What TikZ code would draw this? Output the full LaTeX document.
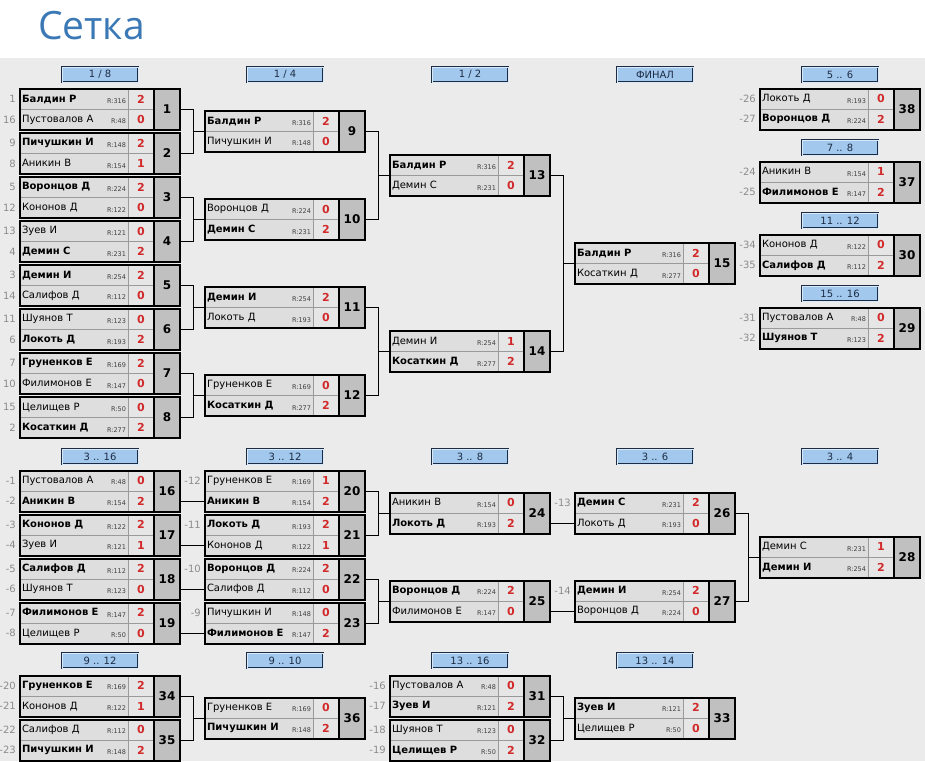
\documentclass[tikz,border=0pt]{standalone}
\usepackage{fontspec}
\setmainfont{DejaVu Sans}
\newfontfamily\titlefont{Open Sans}
\usetikzlibrary{fit}
\definecolor{bggray}{HTML}{EBEBEB}
\definecolor{namefill}{HTML}{DEDEDE}
\definecolor{scorefill}{HTML}{E6E6E6}
\definecolor{numfill}{HTML}{C0C0C0}
\definecolor{rowline}{HTML}{9A9A9A}
\definecolor{seedgray}{HTML}{8C8C8C}
\definecolor{scorered}{HTML}{D22A2A}
\definecolor{stageblue}{HTML}{A3C8EE}
\definecolor{stageline}{HTML}{1C2C44}
\definecolor{titleblue}{HTML}{3B78B6}
\newcommand{\rtg}{\fontsize{6.5}{7}\selectfont\color{black!75}}
\newcommand{\win}[2]{\textbf{#1}\hfill\raisebox{-1.5pt}{\rtg R:#2}}
\newcommand{\lose}[2]{#1\hfill\raisebox{-1.5pt}{\rtg R:#2}}
\newcommand{\game}[7]{%
\node[namecell,anchor=south west] (m#1a) at (#2,#3) {#4};
\node[namecell,anchor=north west] (m#1b) at (#2,#3) {#6};
\node[scorecell,anchor=west] (m#1s) at (m#1a.east) {#5};
\node[scorecell,anchor=west] (m#1t) at (m#1b.east) {#7};
\node[numcell,anchor=west] (m#1n) at (m#1s.south east) {#1};
\node[frame,fit=(m#1a)(m#1n)] (m#1) {};
\draw[line width=2pt] (m#1n.north west) -- (m#1n.south west);}
\newcommand{\seed}[2]{\node[seed,anchor=east] (l#1) at ([xshift=-4pt]#1.west) {#2};}
\newcommand{\bracket}[3]{\draw[link] (m#1.east) -- ++(12.5,0) coordinate (j#3) |- (m#2.east); \draw[link] (j#3 |- m#3.west) -- (m#3.west);}
\newcommand{\feed}[2]{\draw[link] (m#1.east |- m#2b.west) -- (m#2b.west);}
\begin{document}
\begin{tikzpicture}[x=1pt,y=-1pt,
namecell/.style={draw=rowline,line width=0.5pt,fill=namefill,minimum height=20.5pt,text width=104pt,inner xsep=2pt,inner ysep=0pt,outer sep=0pt,font=\fontsize{10}{12}\selectfont},
scorecell/.style={draw=rowline,line width=0.5pt,fill=scorefill,minimum height=20.5pt,minimum width=26pt,inner sep=0pt,outer sep=0pt,text=scorered,font=\fontsize{11}{12}\selectfont\bfseries},
numcell/.style={fill=numfill,minimum height=41pt,minimum width=26pt,inner sep=0pt,outer sep=0pt,font=\fontsize{12}{14}\selectfont\bfseries},
frame/.style={draw,line width=2pt,inner sep=0pt},
seed/.style={text=seedgray,inner sep=0pt,font=\fontsize{10}{12}\selectfont},
stage/.style={draw=stageline,line width=0.8pt,double=white!60!stageblue,double distance=1pt,fill=stageblue,minimum width=76pt,minimum height=15pt,inner sep=0pt,text=stageline,font=\fontsize{10}{12}\selectfont},
link/.style={line width=0.8pt}]
\useasboundingbox (0,0) rectangle (925,761);
\fill[white] (0,0) rectangle (925,58);
\fill[bggray] (0,58) rectangle (925,761);
\node[anchor=west,inner sep=0pt,text=titleblue,font=\titlefont\fontsize{39}{44}\selectfont] (title) at (38,26) {Сетка};

\node[stage] (h18) at (100,74.5) {1 / 8};
\node[stage] (h14) at (285,74.5) {1 / 4};
\node[stage] (h12) at (470,74.5) {1 / 2};
\node[stage] (hfin) at (655,74.5) {ФИНАЛ};
\node[stage] (h56) at (840,74.5) {5 .. 6};
\node[stage] (h78) at (840,147.5) {7 .. 8};
\node[stage] (h1112) at (840,220.5) {11 .. 12};
\node[stage] (h1516) at (840,293.5) {15 .. 16};
\node[stage] (h316) at (100,456.5) {3 .. 16};
\node[stage] (h312) at (285,456.5) {3 .. 12};
\node[stage] (h38) at (470,456.5) {3 .. 8};
\node[stage] (h36) at (655,456.5) {3 .. 6};
\node[stage] (h34) at (840,456.5) {3 .. 4};
\node[stage] (h912) at (100,660.5) {9 .. 12};
\node[stage] (h910) at (285,660.5) {9 .. 10};
\node[stage] (h1316) at (470,660.5) {13 .. 16};
\node[stage] (h1314) at (655,660.5) {13 .. 14};

\game{1}{20}{109.5}{\win{Балдин Р}{316}}{2}{\lose{Пустовалов А}{48}}{0}
\game{2}{20}{153.5}{\win{Пичушкин И}{148}}{2}{\lose{Аникин В}{154}}{1}
\game{3}{20}{197.5}{\win{Воронцов Д}{224}}{2}{\lose{Кононов Д}{122}}{0}
\game{4}{20}{241.5}{\lose{Зуев И}{121}}{0}{\win{Демин С}{231}}{2}
\game{5}{20}{285.5}{\win{Демин И}{254}}{2}{\lose{Салифов Д}{112}}{0}
\game{6}{20}{329.5}{\lose{Шуянов Т}{123}}{0}{\win{Локоть Д}{193}}{2}
\game{7}{20}{373.5}{\win{Груненков Е}{169}}{2}{\lose{Филимонов Е}{147}}{0}
\game{8}{20}{417.5}{\lose{Целищев Р}{50}}{0}{\win{Косаткин Д}{277}}{2}
\game{9}{205}{131.5}{\win{Балдин Р}{316}}{2}{\lose{Пичушкин И}{148}}{0}
\game{10}{205}{219.5}{\lose{Воронцов Д}{224}}{0}{\win{Демин С}{231}}{2}
\game{11}{205}{307.5}{\win{Демин И}{254}}{2}{\lose{Локоть Д}{193}}{0}
\game{12}{205}{395.5}{\lose{Груненков Е}{169}}{0}{\win{Косаткин Д}{277}}{2}
\game{13}{390}{175.5}{\win{Балдин Р}{316}}{2}{\lose{Демин С}{231}}{0}
\game{14}{390}{351.5}{\lose{Демин И}{254}}{1}{\win{Косаткин Д}{277}}{2}
\game{15}{575}{263.5}{\win{Балдин Р}{316}}{2}{\lose{Косаткин Д}{277}}{0}
\game{38}{760}{109}{\lose{Локоть Д}{193}}{0}{\win{Воронцов Д}{224}}{2}
\game{37}{760}{182}{\lose{Аникин В}{154}}{1}{\win{Филимонов Е}{147}}{2}
\game{30}{760}{255}{\lose{Кононов Д}{122}}{0}{\win{Салифов Д}{112}}{2}
\game{29}{760}{328}{\lose{Пустовалов А}{48}}{0}{\win{Шуянов Т}{123}}{2}

\game{16}{20}{491}{\lose{Пустовалов А}{48}}{0}{\win{Аникин В}{154}}{2}
\game{17}{20}{535}{\win{Кононов Д}{122}}{2}{\lose{Зуев И}{121}}{1}
\game{18}{20}{579}{\win{Салифов Д}{112}}{2}{\lose{Шуянов Т}{123}}{0}
\game{19}{20}{623}{\win{Филимонов Е}{147}}{2}{\lose{Целищев Р}{50}}{0}
\game{20}{205}{491}{\lose{Груненков Е}{169}}{1}{\win{Аникин В}{154}}{2}
\game{21}{205}{535}{\win{Локоть Д}{193}}{2}{\lose{Кононов Д}{122}}{1}
\game{22}{205}{579}{\win{Воронцов Д}{224}}{2}{\lose{Салифов Д}{112}}{0}
\game{23}{205}{623}{\lose{Пичушкин И}{148}}{0}{\win{Филимонов Е}{147}}{2}
\game{24}{390}{513}{\lose{Аникин В}{154}}{0}{\win{Локоть Д}{193}}{2}
\game{25}{390}{601}{\win{Воронцов Д}{224}}{2}{\lose{Филимонов Е}{147}}{0}
\game{26}{575}{513}{\win{Демин С}{231}}{2}{\lose{Локоть Д}{193}}{0}
\game{27}{575}{601}{\win{Демин И}{254}}{2}{\lose{Воронцов Д}{224}}{0}
\game{28}{760}{557}{\lose{Демин С}{231}}{1}{\win{Демин И}{254}}{2}

\game{34}{20}{696}{\win{Груненков Е}{169}}{2}{\lose{Кононов Д}{122}}{1}
\game{35}{20}{740}{\lose{Салифов Д}{112}}{0}{\win{Пичушкин И}{148}}{2}
\game{36}{205}{718}{\lose{Груненков Е}{169}}{0}{\win{Пичушкин И}{148}}{2}
\game{31}{390}{696}{\lose{Пустовалов А}{48}}{0}{\win{Зуев И}{121}}{2}
\game{32}{390}{740}{\lose{Шуянов Т}{123}}{0}{\win{Целищев Р}{50}}{2}
\game{33}{575}{718}{\win{Зуев И}{121}}{2}{\lose{Целищев Р}{50}}{0}

\seed{m1a}{1}\seed{m1b}{16}\seed{m2a}{9}\seed{m2b}{8}
\seed{m3a}{5}\seed{m3b}{12}\seed{m4a}{13}\seed{m4b}{4}
\seed{m5a}{3}\seed{m5b}{14}\seed{m6a}{11}\seed{m6b}{6}
\seed{m7a}{7}\seed{m7b}{10}\seed{m8a}{15}\seed{m8b}{2}
\seed{m38a}{-26}\seed{m38b}{-27}\seed{m37a}{-24}\seed{m37b}{-25}
\seed{m30a}{-34}\seed{m30b}{-35}\seed{m29a}{-31}\seed{m29b}{-32}
\seed{m16a}{-1}\seed{m16b}{-2}\seed{m17a}{-3}\seed{m17b}{-4}
\seed{m18a}{-5}\seed{m18b}{-6}\seed{m19a}{-7}\seed{m19b}{-8}
\seed{m20a}{-12}\seed{m21a}{-11}\seed{m22a}{-10}\seed{m23a}{-9}
\seed{m26a}{-13}\seed{m27a}{-14}
\seed{m34a}{-20}\seed{m34b}{-21}\seed{m35a}{-22}\seed{m35b}{-23}
\seed{m31a}{-16}\seed{m31b}{-17}\seed{m32a}{-18}\seed{m32b}{-19}

\bracket{1}{2}{9}\bracket{3}{4}{10}\bracket{5}{6}{11}\bracket{7}{8}{12}
\bracket{9}{10}{13}\bracket{11}{12}{14}\bracket{13}{14}{15}
\feed{16}{20}\feed{17}{21}\feed{18}{22}\feed{19}{23}
\bracket{20}{21}{24}\bracket{22}{23}{25}
\feed{24}{26}\feed{25}{27}
\bracket{26}{27}{28}
\bracket{34}{35}{36}\bracket{31}{32}{33}
\end{tikzpicture}
\end{document}
